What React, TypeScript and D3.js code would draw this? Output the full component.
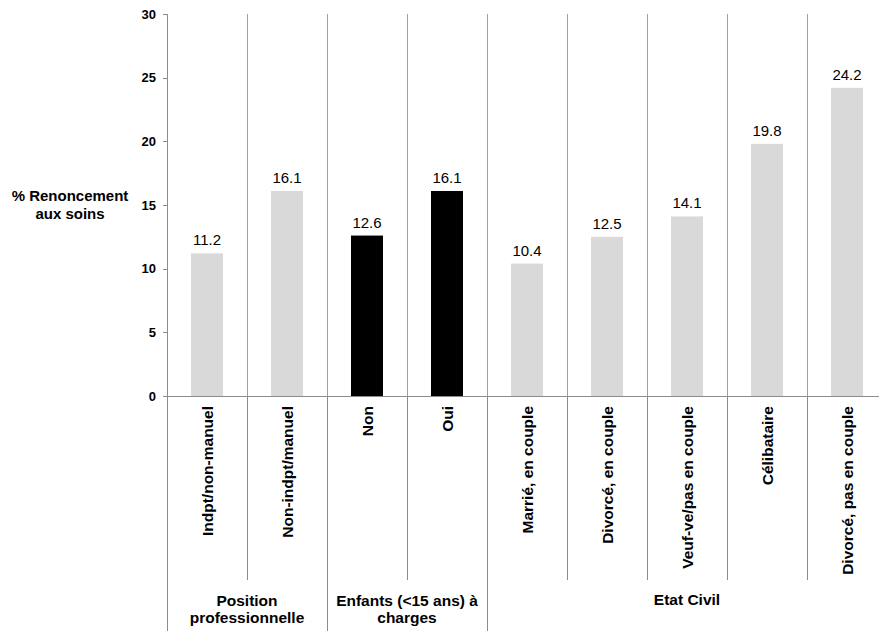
import React from "react";
import * as d3 from "d3";

const categories = [
  "Indpt/non-manuel",
  "Non-indpt/manuel",
  "Non",
  "Oui",
  "Marrié, en couple",
  "Divorcé, en couple",
  "Veuf-ve/pas en couple",
  "Célibataire",
  "Divorcé, pas en couple",
];
const values = [11.2, 16.1, 12.6, 16.1, 10.4, 12.5, 14.1, 19.8, 24.2];
const barGroup = [0, 0, 1, 1, 2, 2, 2, 2, 2];
const groupLabels = [
  ["Position", "professionnelle"],
  ["Enfants (<15 ans) à", "charges"],
  ["Etat Civil"],
];
const groupStart = [0, 2, 4];
const groupEnd = [2, 4, 9];
const yTicks = [0, 5, 10, 15, 20, 25, 30];
const yTitle = ["% Renoncement", "aux soins"];

const FONT = "'Liberation Sans', Arial, Helvetica, sans-serif";

export default function App() {
  const W = 879, H = 631;
  const left = 167, right = 887, top = 14, bottom = 396;
  const x = d3.scaleBand<number>().domain(d3.range(categories.length)).range([left, right]).paddingInner(0).paddingOuter(0);
  const y = d3.scaleLinear().domain([0, 30]).range([bottom, top]);
  const bw = x.bandwidth();
  const barW = bw * 0.4;
  const axisColor = "#8c8c8c";
  const gridColor = "#a0a0a0";
  const tickBottom = 580;
  const groupBottom = 631;

  return (
    <svg width={W} height={H} style={{ position: "absolute", left: 0, top: 0 }} fontFamily={FONT}>
      <rect width={W} height={H} fill="#fff" />
      {d3.range(1, categories.length).map((i) => (
        <line key={"g" + i} x1={x(i)! + 0.5} x2={x(i)! + 0.5} y1={top} y2={bottom} stroke={gridColor} strokeWidth={1} />
      ))}
      {values.map((v, i) => (
        <rect
          key={"b" + i}
          x={x(i)! + (bw - barW) / 2}
          y={y(v)}
          width={barW}
          height={y(0) - y(v)}
          fill={barGroup[i] === 1 ? "#000000" : "#d9d9d9"}
        />
      ))}
      {values.map((v, i) => (
        <text key={"v" + i} x={x(i)! + bw / 2} y={y(v) - 8} textAnchor="middle" fontSize={15} fill="#000">
          {v.toFixed(1)}
        </text>
      ))}
      <line x1={left + 0.5} x2={left + 0.5} y1={top} y2={groupBottom} stroke={axisColor} />
      {yTicks.map((t) => (
        <g key={"t" + t}>
          <line x1={left - 4} x2={left} y1={Math.round(y(t)) + 0.5} y2={Math.round(y(t)) + 0.5} stroke={axisColor} />
          <text x={left - 11} y={y(t) + 4.5} textAnchor="end" fontSize={13} fontWeight="bold" fill="#000">
            {t}
          </text>
        </g>
      ))}
      <line x1={left - 4} x2={right} y1={bottom + 0.5} y2={bottom + 0.5} stroke={axisColor} />
      {d3.range(1, categories.length).map((i) => {
        const isGroup = groupStart.includes(i);
        return (
          <line key={"s" + i} x1={x(i)! + 0.5} x2={x(i)! + 0.5} y1={bottom} y2={isGroup ? groupBottom : tickBottom} stroke={axisColor} />
        );
      })}
      {categories.map((c, i) => (
        <text
          key={"c" + i}
          transform={`translate(${x(i)! + bw / 2 + 5.5},${bottom + 10}) rotate(-90)`}
          textAnchor="end"
          fontSize={15.5}
          fontWeight="bold"
          fill="#000"
        >
          {c}
        </text>
      ))}
      {groupLabels.map((lines, g) => {
        const cx = (x(groupStart[g])! + (x(groupEnd[g] - 1)! + bw)) / 2;
        return (
          <text key={"gl" + g} x={cx} textAnchor="middle" fontSize={15.5} fontWeight="bold" fill="#000">
            {lines.map((l, j) => (
              <tspan key={j} x={cx} y={lines.length === 1 ? 605 : 606 + j * 17}>
                {l}
              </tspan>
            ))}
          </text>
        );
      })}
      <text x={70} textAnchor="middle" fontSize={15} fontWeight="bold" fill="#000">
        {yTitle.map((l, j) => (
          <tspan key={j} x={70} y={201 + j * 18}>
            {l}
          </tspan>
        ))}
      </text>
    </svg>
  );
}
